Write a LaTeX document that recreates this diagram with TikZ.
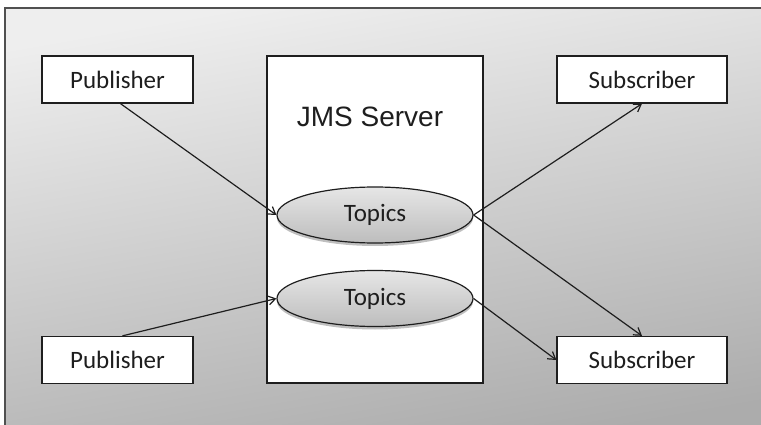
\documentclass[tikz,border=0pt]{standalone}
\usepackage{fontspec}
\setmainfont{Carlito}
\newfontfamily\arialfont{Liberation Sans}
\usetikzlibrary{arrows.meta,shadows,shapes.geometric}
\definecolor{bgtop}{HTML}{EEEEEE}
\definecolor{bgbot}{HTML}{ACACAC}
\definecolor{framecol}{HTML}{505050}
\definecolor{inkcol}{HTML}{1E1E1E}
\definecolor{elltop}{HTML}{E6E6E6}
\definecolor{ellbot}{HTML}{BDBDBD}
\tikzset{
  box/.style={draw=inkcol, line width=1.3pt, fill=white, inner sep=0pt, minimum width=151pt, minimum height=47pt, font=\fontsize{25}{27}\selectfont, text=inkcol},
  topic/.style={ellipse, draw=inkcol, line width=1.2pt, top color=elltop, bottom color=ellbot, minimum width=196pt, minimum height=56pt, inner sep=0pt, font=\fontsize{25}{27}\selectfont, text=inkcol, drop shadow={shadow xshift=0pt, shadow yshift=-3pt, opacity=0.25, fill=black}},
  conn/.style={draw=inkcol, line width=1.2pt, -{Straight Barb[length=7pt,width=9pt,line width=1.2pt]}}
}
\begin{document}
\begin{tikzpicture}[x=1pt,y=-1pt]
\useasboundingbox (0,0) rectangle (761,425);
\fill[white] (0,0) rectangle (761,425);
\shade[top color=bgtop, bottom color=bgbot, shading angle=10] (5,8) rectangle (775,440);
\draw[framecol, line width=2pt] (5,440) -- (5,8) -- (775,8);
\node[draw=inkcol, line width=1.3pt, fill=white, minimum width=216pt, minimum height=327pt, inner sep=0pt] (server) at (375,219.5) {};
\node[font=\arialfont\fontsize{28}{30}\selectfont, text=inkcol] (title) at (370,117) {JMS Server};
\node[box] (pub1) at (117.5,79.5) {Publisher};
\node[box] (pub2) at (117.5,360) {Publisher};
\node[box, minimum width=170pt] (sub1) at (642,79.5) {Subscriber};
\node[box, minimum width=170pt] (sub2) at (642,360) {Subscriber};
\node[topic] (top1) at (375,215) {Topics};
\node[topic] (top2) at (375,298.5) {Topics};
\draw[conn] ([xshift=3pt]pub1.south) -- (top1.west);
\draw[conn] ([xshift=5pt]pub2.north) -- (top2.west);
\draw[conn] (top1.east) -- (sub1.south);
\draw[conn] (top1.east) -- (sub2.north);
\draw[conn] (top2.east) -- (sub2.west);
\end{tikzpicture}
\end{document}
